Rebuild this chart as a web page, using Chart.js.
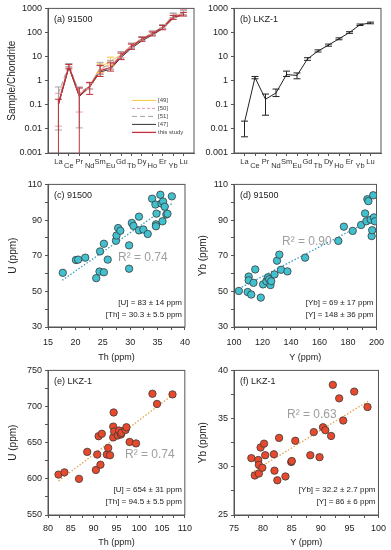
<!DOCTYPE html>
<html>
<head>
<meta charset="utf-8">
<script src="https://cdn.jsdelivr.net/npm/chart.js@4.4.1/dist/chart.umd.min.js"></script>
<style>
  body { margin: 0; background: #fff; }
  #fig { position: relative; width: 391px; height: 550px; overflow: hidden; }
  #fig canvas { position: absolute; }
</style>
</head>
<body>
<div id="fig">
  <canvas id="pa"></canvas>
  <canvas id="pb"></canvas>
  <canvas id="pc"></canvas>
  <canvas id="pd"></canvas>
  <canvas id="pe"></canvas>
  <canvas id="pf"></canvas>
</div>
<script>
// ---- REE patterns, chondrite normalised ----
var ree = ['La', 'Ce', 'Pr', 'Nd', 'Sm', 'Eu', 'Gd', 'Tb', 'Dy', 'Ho', 'Er', 'Yb', 'Lu'];
var decades = [0.001, 0.01, 0.1, 1, 10, 100, 1000];

// (a) 91500
var thisStudy = [0.11, 3.9, 0.24, 0.58, 2.6, 3.5, 10.5, 26, 52, 88, 160, 420, 570];
var thisLo = [0.0001, 3.1, 0.0001, 0.27, 1.5, 2.5, 7.5, 20, 43, 72, 130, 350, 480];
var thisHi = [0.17, 4.7, 0.5, 0.85, 4.3, 5.5, 14, 33, 63, 105, 195, 510, 680];
var ref47 = [0.1, 3.6, 0.22, 0.55, 2.3, 3.0, 9.2, 22, 45, 78, 145, 390, 560];
var ref49 = [0.12, 4.0, 0.25, 0.6, 3.6, 6.5, 12, 29, 56, 93, 170, 440, 600];
var lo49 = [null, null, null, null, 2.2, 4.5, null, null, null, null, null, null, null];
var hi49 = [null, null, null, null, 5, 9.5, null, null, null, null, null, null, null];
var ref50 = [0.16, 4.3, 0.3, 0.6, 3.0, 4.4, 12, 30, 57, 95, 180, 480, 650];
var lo50 = [0.013, 3.6, 0.05, 0.45, 2, 3, 9, 24, 47, 80, 150, 400, 540];
var hi50 = [0.3, 5, 0.5, 0.8, 4.5, 6.5, 16, 36, 68, 115, 215, 620, 900];
var ref51 = [0.3, 4.6, 0.32, 0.62, 3.3, 4.8, 11.5, 28, 55, 95, 175, 520, 640];
var lo51 = [0.009, 3.8, 0.011, 0.45, 1.8, 3, 8, 22, 45, 80, 150, 420, 540];
var hi51 = [0.55, 5.2, 0.55, 0.85, 5.8, 7, 16, 36, 68, 115, 210, 640, 800];

// (b) LKZ-1
var lkz = [0.019, 1.35, 0.17, 0.31, 1.8, 1.65, 8, 17, 30, 55, 100, 210, 250];
var lkzLo = [0.0047, 1.2, 0.037, 0.22, 1.5, 1.2, 7, 15.5, 27, 50, 92, 195, 230];
var lkzHi = [0.021, 1.5, 0.28, 0.45, 2.5, 2.1, 9, 19, 33, 60, 108, 225, 270];

// ---- trace element scatter ----
// (c) 91500 Th vs U
var thC = [17.7, 20.1, 20.5, 21.8, 23.8, 24.4, 25.2, 24.5, 25.2, 25.9, 27.4, 27.5, 27.8, 28.2, 29.8, 29.8, 30.3, 30.6, 31.6, 31.6, 32.4, 33.2, 34.0, 34.6, 34.8, 34.7, 34.7, 35.5, 35.7, 35.9, 36.0, 36.3, 36.6, 36.8, 37.6];
var uC = [60.4, 67.6, 67.8, 68.9, 57.4, 61.1, 60.7, 72.4, 76.7, 67.8, 78.4, 81.3, 85.5, 84, 75.8, 62.7, 88.4, 86.7, 91.9, 84.2, 84.7, 82.2, 102, 98.7, 93.6, 87.6, 86.5, 104.2, 99.3, 89.3, 100.4, 97.5, 93.1, 93.5, 103.3];
var trendCx = [17.6, 37.6];
var trendCy = [56.2, 99.2];

// (d) 91500 Y vs Yb
var yD = [103.4, 109.6, 110.3, 110.3, 112.1, 113.7, 114.9, 118.8, 120.4, 122.7, 123.8, 124.7, 125.6, 126.1, 128.4, 130.2, 131.8, 133, 137.5, 149.9, 173.2, 177.1, 183.3, 189.2, 192, 192.9, 193.6, 194.3, 195.9, 196.6, 197, 197.7, 198.2, 198.9];
var ybD = [50.2, 49.6, 58.3, 56.2, 48.2, 54.8, 62.3, 46.5, 53.9, 55.7, 57.9, 56.8, 53.5, 55.7, 59.5, 67.2, 70.6, 62.1, 61.2, 68.9, 78.3, 86.3, 83.9, 87.2, 93.7, 89.3, 101.7, 100.6, 90.2, 81, 84.3, 103.9, 91.5, 89.3];
var trendDx = [103.4, 197.7];
var trendDy = [51.5, 90.6];

// (e) LKZ-1 Th vs U
var thE = [82.3, 83.6, 86.8, 88.6, 90.5, 90.8, 91.1, 91.5, 91.8, 92.9, 93.2, 93.6, 94.4, 94.3, 94.3, 94.5, 95.3, 95.6, 96, 96.1, 97, 97.2, 97.9, 99.3, 102.9, 103.9, 107.3];
var uE = [605.9, 609, 600, 637.3, 612.3, 633.6, 659, 619.5, 662.3, 633.6, 642.7, 632.7, 691.8, 672.3, 657.3, 665.5, 660, 666.8, 661.4, 663.6, 667.7, 671.4, 651, 649, 717.7, 703.6, 716.8];
var trendEx = [82.3, 107.3];
var trendEy = [597, 716];

// (f) LKZ-1 Y vs Yb
var yF = [78.0, 78.6, 79.2, 79.3, 79.3, 79.6, 79.9, 80.2, 80.4, 81.9, 82, 82.5, 82.8, 83.9, 84.9, 85.0, 85.6, 88.2, 88.8, 89.8, 90.4, 90.8, 91.8, 92.1, 93.2, 93.9, 95.8, 98.1];
var ybF = [30.9, 29.1, 30.7, 30.2, 29.3, 32.0, 29.9, 32.4, 31.2, 31.3, 29.6, 28.6, 33, 29.0, 30.5, 30.6, 32.7, 31.2, 33.6, 31.0, 34.1, 33.8, 33.2, 38.5, 37.1, 34.8, 37.8, 36.2];
var trendFx = [78, 98.2];
var trendFy = [29.4, 36.8];

Chart.defaults.font.family = '"Liberation Sans", Arial, sans-serif';
Chart.defaults.font.size = 9;
Chart.defaults.color = '#222';
Chart.defaults.animation = false;
Chart.defaults.plugins.legend.display = false;
Chart.defaults.plugins.tooltip.enabled = false;

var FONT = '"Liberation Sans", Arial, sans-serif';
var AX = '#555';
var extras = {};

function place(id, left, top, w, h) {
    var c = document.getElementById(id);
    c.width = w; c.height = h;
    c.style.left = left + 'px'; c.style.top = top + 'px';
    c.style.width = w + 'px'; c.style.height = h + 'px';
    return c;
}

// frame round the plot area
var boxPlugin = {
    id: 'box',
    beforeDatasetsDraw: function (chart) {
        var a = chart.chartArea, c = chart.ctx;
        c.save();
        c.strokeStyle = AX; c.lineWidth = 1;
        c.strokeRect(a.left, a.top, a.right - a.left, a.bottom - a.top);
        c.restore();
    }
};

// vertical error bars with caps
var errPlugin = {
    id: 'err',
    afterDatasetsDraw: function (chart) {
        var c = chart.ctx, a = chart.chartArea, x = chart.scales.x, y = chart.scales.y;
        c.save();
        c.beginPath(); c.rect(a.left, a.top - 1, a.right - a.left, a.bottom - a.top + 1); c.clip();
        chart.data.datasets.slice().reverse().forEach(function (ds) {
            if (!ds.lo) return;
            c.strokeStyle = ds.borderColor; c.lineWidth = 1; c.setLineDash([]);
            ds.data.forEach(function (p, i) {
                if (ds.lo[i] == null) return;
                var px = x.getPixelForValue(p.x);
                var y1 = y.getPixelForValue(ds.lo[i]), y2 = y.getPixelForValue(ds.hi[i]);
                c.beginPath();
                c.moveTo(px, y1); c.lineTo(px, y2);
                c.moveTo(px - 3.5, y1); c.lineTo(px + 3.5, y1);
                c.moveTo(px - 3.5, y2); c.lineTo(px + 3.5, y2);
                c.stroke();
            });
        });
        c.restore();
    }
};

// staggered element names under the REE axis
var reeLabels = {
    id: 'reeLabels',
    afterDraw: function (chart) {
        var c = chart.ctx, x = chart.scales.x, b = chart.chartArea.bottom;
        c.save();
        c.font = '7.5px ' + FONT; c.fillStyle = '#333';
        c.textAlign = 'center'; c.textBaseline = 'middle';
        ree.forEach(function (e, i) {
            c.fillText(e, x.getPixelForValue(i), b + (i % 2 ? 13 : 9));
        });
        c.restore();
    }
};

// free text and legend
var notesPlugin = {
    id: 'notes',
    afterDraw: function (chart) {
        var ex = extras[chart.canvas.id];
        if (!ex) return;
        var c = chart.ctx, a = chart.chartArea;
        c.save();
        (ex.texts || []).forEach(function (t) {
            c.font = t.size + 'px ' + FONT;
            c.fillStyle = t.color || '#222';
            c.textBaseline = 'middle';
            c.textAlign = t.right ? 'right' : 'left';
            var px = t.right ? a.right - t.dx : a.left + t.dx;
            var py = t.bottom ? a.bottom - t.dy : a.top + t.dy;
            c.fillText(t.text, px, py);
        });
        if (ex.legend) {
            ex.legend.forEach(function (l, i) {
                var py = a.top + 92 + i * 8;
                c.strokeStyle = l.color; c.lineWidth = l.width;
                c.setLineDash(l.dash || []);
                c.beginPath(); c.moveTo(a.right - 62, py); c.lineTo(a.right - 38, py); c.stroke();
                c.setLineDash([]);
                c.font = '6px ' + FONT; c.fillStyle = '#444';
                c.textAlign = 'left'; c.textBaseline = 'middle';
                c.fillText(l.text, a.right - 36, py);
            });
        }
        c.restore();
    }
};

function series(vals, color, width, dash, lo, hi) {
    return {
        data: ree.map(function (e, i) { return { x: i, y: vals[i] }; }),
        borderColor: color, borderWidth: width, borderDash: dash || [],
        pointRadius: 0, fill: false, tension: 0, lo: lo, hi: hi
    };
}

function grid() {
    return { drawOnChartArea: false, tickLength: 3, color: AX, lineWidth: 1 };
}

function reePanel(id, datasets, yW, padR, yTitle) {
    return new Chart(document.getElementById(id), {
        type: 'line',
        data: { datasets: datasets },
        options: {
            responsive: false,
            layout: { padding: { top: 7, right: padR, left: 0, bottom: 0 } },
            scales: {
                x: {
                    type: 'linear', min: -1, max: 13,
                    afterBuildTicks: function (s) { s.ticks = ree.map(function (e, i) { return { value: i }; }); },
                    afterFit: function (s) { s.height = 29; },
                    ticks: { callback: function () { return ''; }, autoSkip: false },
                    grid: grid(), border: { color: AX }
                },
                y: {
                    type: 'logarithmic', min: 0.001, max: 1000,
                    afterBuildTicks: function (s) { s.ticks = decades.map(function (v) { return { value: v }; }); },
                    afterFit: function (s) { s.width = yW; },
                    ticks: { callback: function (v) { return String(v); }, padding: 3, autoSkip: false },
                    grid: grid(), border: { color: AX },
                    title: { display: !!yTitle, text: yTitle || '', font: { size: 10 }, color: '#222', padding: { top: 6, bottom: 0 } }
                }
            }
        },
        plugins: [boxPlugin, errPlugin, reeLabels, notesPlugin]
    });
}

function showEvery(min, every) {
    return function (v) {
        var k = (v - min) / every;
        return Math.abs(k - Math.round(k)) < 1e-6 ? String(v) : '';
    };
}

function scatterPanel(id, p) {
    return new Chart(document.getElementById(id), {
        type: 'scatter',
        data: {
            datasets: [
                {
                    data: p.xs.map(function (v, i) { return { x: v, y: p.ys[i] }; }),
                    pointRadius: 3.7, pointBackgroundColor: p.fill,
                    pointBorderColor: '#3a3a3a', pointBorderWidth: 0.8
                },
                {
                    type: 'line',
                    data: p.tx.map(function (v, i) { return { x: v, y: p.ty[i] }; }),
                    borderColor: p.lineCol, borderWidth: 1.3, borderDash: [1.5, 1.8],
                    pointRadius: 0, fill: false
                }
            ]
        },
        options: {
            responsive: false,
            layout: { padding: { top: p.padT, right: p.padR, left: 0, bottom: 0 } },
            scales: {
                x: {
                    type: 'linear', min: p.xr[0], max: p.xr[1],
                    afterFit: function (s) { s.height = p.xH; },
                    ticks: { stepSize: p.xr[2], callback: showEvery(p.xr[0], p.xr[3]), autoSkip: false, maxRotation: 0, padding: p.tickPad },
                    grid: grid(), border: { color: AX },
                    title: { display: true, text: p.xTitle, font: { size: 9 }, color: '#222', padding: { top: 0, bottom: p.xTitlePad } }
                },
                y: {
                    type: 'linear', min: p.yr[0], max: p.yr[1],
                    afterFit: function (s) { s.width = p.yW; },
                    ticks: { stepSize: p.yr[2], callback: showEvery(p.yr[0], p.yr[3]), autoSkip: false, padding: 3 },
                    grid: grid(), border: { color: AX },
                    title: { display: true, text: p.yTitle, font: { size: 10 }, color: '#222', padding: { top: p.yTitlePad, bottom: 0 } }
                }
            }
        },
        plugins: [boxPlugin, notesPlugin]
    });
}

// ---- layout ----
place('pa', 0, 0, 197, 182);
place('pb', 195, 0, 196, 182);
place('pc', 0, 176, 197, 190);
place('pd', 195, 176, 196, 190);
place('pe', 0, 362, 197, 188);
place('pf', 195, 362, 196, 188);

extras.pa = {
    texts: [{ text: '(a) 91500', dx: 6, dy: 11, size: 9 }],
    legend: [
        { text: '[49]', color: '#f2c744', width: 1 },
        { text: '[50]', color: '#e79aa8', width: 1, dash: [3, 2] },
        { text: '[51]', color: '#a4a4a4', width: 1, dash: [5, 3] },
        { text: '[47]', color: '#333333', width: 1 },
        { text: 'this study', color: '#c2323a', width: 1.3 }
    ]
};
extras.pb = { texts: [{ text: '(b) LKZ-1', dx: 6, dy: 11, size: 9 }] };

var dsA = [
    series(thisStudy, '#c2323a', 1.4, [], thisLo, thisHi),
    series(ref47, '#333333', 1, [], null, null),
    series(ref51, '#a4a4a4', 1, [5, 3], lo51, hi51),
    series(ref50, '#e79aa8', 1, [3, 2], lo50, hi50),
    series(ref49, '#f2c744', 1, [], lo49, hi49)
];
reePanel('pa', dsA, 48, 3, 'Sample/Chondrite');
reePanel('pb', [series(lkz, '#222222', 1, [], lkzLo, lkzHi)], 39, 10, null);

var TEAL = '#41c0cf', RED = '#e8492d';
var GREY = '#9e9e9e';

extras.pc = { texts: [
    { text: '(c) 91500', dx: 6, dy: 11, size: 9 },
    { text: 'R\u00b2 = 0.74', dx: 70, dy: 73, size: 12, color: GREY },
    { text: '[U] = 83 \u00b1 14 ppm', right: true, bottom: true, dx: 3, dy: 24, size: 8 },
    { text: '[Th] = 30.3 \u00b1 5.5 ppm', right: true, bottom: true, dx: 3, dy: 12, size: 8 }
] };
scatterPanel('pc', {
    xs: thC, ys: uC, tx: trendCx, ty: trendCy, fill: TEAL, lineCol: '#3a9cc0',
    xr: [15, 40, 2.5, 5], yr: [30, 110, 10, 20], xTitle: 'Th (ppm)', yTitle: 'U (ppm)',
    padT: 7, padR: 3, xH: 39, yW: 48, xTitlePad: 3, yTitlePad: 7, tickPad: 7
});

extras.pd = { texts: [
    { text: '(d) 91500', dx: 6, dy: 11, size: 9 },
    { text: 'R\u00b2 = 0.90', dx: 48, dy: 57, size: 12, color: GREY },
    { text: '[Yb] = 69 \u00b1 17 ppm', right: true, bottom: true, dx: 3, dy: 24, size: 8 },
    { text: '[Y] = 148 \u00b1 36 ppm', right: true, bottom: true, dx: 3, dy: 12, size: 8 }
] };
scatterPanel('pd', {
    xs: yD, ys: ybD, tx: trendDx, ty: trendDy, fill: TEAL, lineCol: '#3a9cc0',
    xr: [100, 200, 10, 20], yr: [30, 110, 10, 20], xTitle: 'Y (ppm)', yTitle: 'Yb (ppm)',
    padT: 7, padR: 10, xH: 39, yW: 39, xTitlePad: 3, yTitlePad: 2, tickPad: 7
});

extras.pe = { texts: [
    { text: '(e) LKZ-1', dx: 6, dy: 11, size: 9 },
    { text: 'R\u00b2 = 0.74', dx: 77, dy: 84, size: 12, color: GREY },
    { text: '[U] = 654 \u00b1 31 ppm', right: true, bottom: true, dx: 3, dy: 25, size: 8 },
    { text: '[Th] = 94.5 \u00b1 5.5 ppm', right: true, bottom: true, dx: 3, dy: 13, size: 8 }
] };
scatterPanel('pe', {
    xs: thE, ys: uE, tx: trendEx, ty: trendEy, fill: RED, lineCol: '#e3a64a',
    xr: [80, 110, 2.5, 5], yr: [550, 750, 25, 50], xTitle: 'Th (ppm)', yTitle: 'U (ppm)',
    padT: 8, padR: 3, xH: 35, yW: 48, xTitlePad: 2, yTitlePad: 7, tickPad: 5
});

extras.pf = { texts: [
    { text: '(f) LKZ-1', dx: 6, dy: 11, size: 9 },
    { text: 'R\u00b2 = 0.63', dx: 53, dy: 44, size: 12, color: GREY },
    { text: '[Yb] = 32.2 \u00b1 2.7 ppm', right: true, bottom: true, dx: 3, dy: 25, size: 8 },
    { text: '[Y] = 86 \u00b1 6 ppm', right: true, bottom: true, dx: 3, dy: 13, size: 8 }
] };
scatterPanel('pf', {
    xs: yF, ys: ybF, tx: trendFx, ty: trendFy, fill: RED, lineCol: '#e3a64a',
    xr: [75, 100, 2.5, 5], yr: [25, 40, 2.5, 5], xTitle: 'Y (ppm)', yTitle: 'Yb (ppm)',
    padT: 8, padR: 10, xH: 35, yW: 39, xTitlePad: 2, yTitlePad: 2, tickPad: 5
});
</script>
</body>
</html>
